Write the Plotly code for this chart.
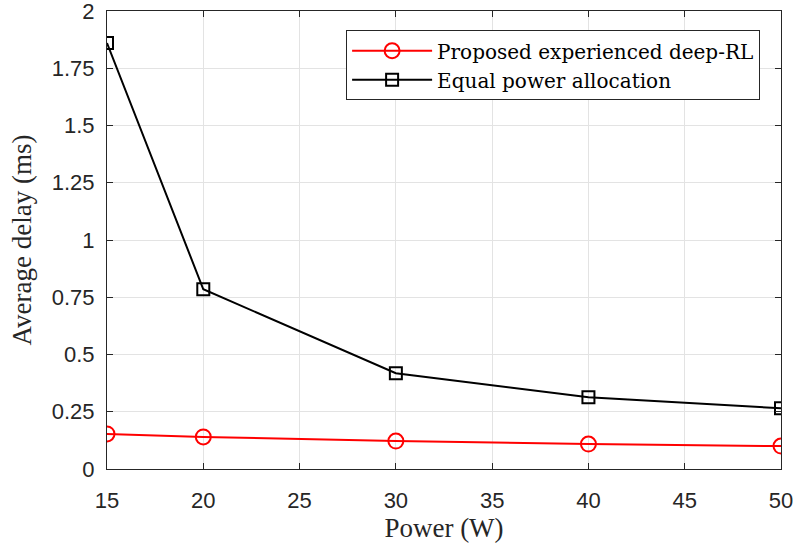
import plotly.graph_objects as go

power = [15, 20, 30, 40, 50]
proposed = [0.153, 0.14, 0.122, 0.109, 0.100]
equal = [1.86, 0.785, 0.418, 0.313, 0.265]

x_ticks = [15, 20, 25, 30, 35, 40, 45, 50]
y_ticks = [0, 0.25, 0.5, 0.75, 1, 1.25, 1.5, 1.75, 2]
y_labels = ["0", "0.25", "0.5", "0.75", "1", "1.25", "1.5", "1.75", "2"]

fig = go.Figure()
fig.add_trace(go.Scatter(
    x=power, y=proposed, mode="lines+markers",
    name="Proposed experienced deep-RL",
    line=dict(color="#ff0000", width=2),
    marker=dict(symbol="circle-open", size=15, color="#ff0000", line=dict(width=2)),
))
fig.add_trace(go.Scatter(
    x=power, y=equal, mode="lines+markers",
    name="Equal power allocation",
    line=dict(color="#000000", width=2),
    marker=dict(symbol="square-open", size=12, color="#000000", line=dict(width=2)),
))

axis_common = dict(
    showgrid=True, gridcolor="#e3e3e3", gridwidth=1,
    showline=True, linecolor="#262626", linewidth=1, mirror="ticks",
    ticks="inside", ticklen=6, tickcolor="#262626",
    tickfont=dict(family="Liberation Sans, Arial", size=22, color="#262626"),
    zeroline=False, automargin=False, ticklabeloverflow="allow",
)

fig.update_xaxes(
    range=[15, 50], tickvals=x_ticks, ticklabelstandoff=12,
    title=dict(text="Power (W)", font=dict(family="Liberation Serif, Times New Roman", size=27, color="#262626"), standoff=2),
    **axis_common,
)
fig.update_yaxes(
    range=[0, 2], tickvals=y_ticks, ticktext=y_labels, ticklabelstandoff=7,
    title=dict(text="Average delay (ms)", font=dict(family="Liberation Serif, Times New Roman", size=27, color="#262626"), standoff=12),
    **axis_common,
)

fig.update_layout(
    width=798, height=545,
    margin=dict(l=107, r=17, t=11, b=76),
    paper_bgcolor="white", plot_bgcolor="white",
    legend=dict(
        x=0.969, y=0.958, xanchor="right", yanchor="top",
        bgcolor="white", bordercolor="#262626", borderwidth=1,
        font=dict(family="DejaVu Serif", size=20, color="#000000"),
        tracegroupgap=0, itemwidth=80,
    ),
    showlegend=True,
)

fig.write_html("out.html", config={"displayModeBar": False},
               post_script="document.body.style.margin='0';")
